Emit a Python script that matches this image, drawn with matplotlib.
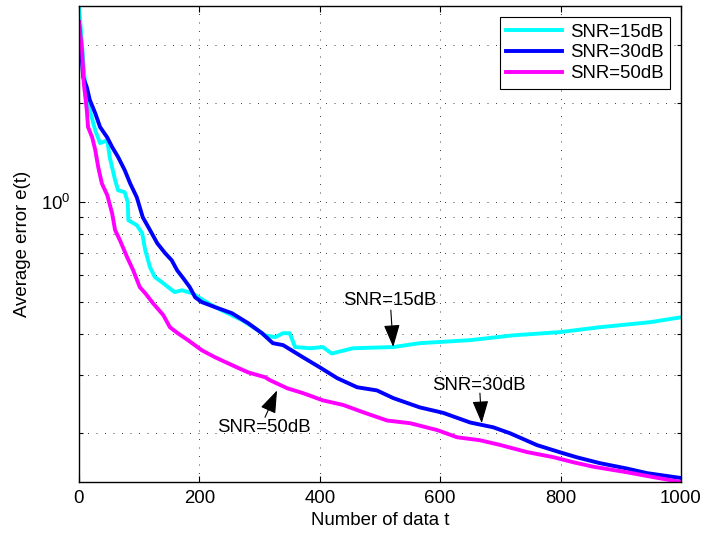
import matplotlib
matplotlib.use("Agg")
import matplotlib.pyplot as plt
from matplotlib.ticker import FixedLocator, NullFormatter, NullLocator

plt.rcParams['font.family'] = ['Liberation Sans', 'DejaVu Sans']

# SNR = 15 dB
t_15 = [0, 10, 18, 27, 35, 47, 51, 60, 65, 76, 81, 82, 96, 105, 110, 118, 126, 138, 148,
        159, 171, 188, 201, 226, 271, 292, 309, 326, 339, 350, 359, 384, 405, 420, 455,
        522, 566, 650, 721, 799, 865, 949, 1000]
e_15 = [3.93, 2.29, 1.90, 1.65, 1.51, 1.54, 1.37, 1.166, 1.087, 1.072, 1.0, 0.882, 0.852,
        0.805, 0.716, 0.635, 0.593, 0.572, 0.553, 0.534, 0.541, 0.530, 0.512, 0.481, 0.439,
        0.415, 0.395, 0.390, 0.401, 0.401, 0.364, 0.361, 0.364, 0.348, 0.361, 0.364, 0.374,
        0.382, 0.395, 0.404, 0.418, 0.433, 0.448]

# SNR = 30 dB
t_30 = [0, 7, 13, 18, 27, 35, 47, 55, 65, 76, 85, 96, 106, 118, 130, 143, 154, 163, 173,
        184, 193, 204, 226, 254, 281, 304, 322, 339, 372, 400, 429, 462, 495, 522, 566,
        605, 650, 688, 716, 761, 799, 827, 865, 910, 944, 1000]
e_30 = [3.5, 2.39, 2.23, 2.04, 1.86, 1.69, 1.57, 1.47, 1.37, 1.25, 1.14, 1.035, 0.90,
        0.823, 0.751, 0.701, 0.667, 0.622, 0.589, 0.553, 0.515, 0.498, 0.481, 0.461, 0.430,
        0.401, 0.374, 0.369, 0.339, 0.316, 0.293, 0.275, 0.269, 0.255, 0.239, 0.230, 0.215,
        0.208, 0.1995, 0.1836, 0.1747, 0.1687, 0.162, 0.156, 0.151, 0.146]

# SNR = 50 dB
t_50 = [0, 5, 8, 13, 15, 22, 27, 32, 38, 47, 55, 60, 68, 80, 90, 101, 110, 123, 140, 151,
        164, 181, 204, 226, 254, 281, 309, 317, 346, 372, 405, 439, 472, 512, 550, 595,
        628, 666, 699, 744, 787, 821, 854, 910, 953, 1000]
e_50 = [3.51, 2.89, 2.29, 1.90, 1.69, 1.57, 1.44, 1.276, 1.14, 1.05, 0.926, 0.823, 0.767,
        0.681, 0.622, 0.553, 0.530, 0.494, 0.455, 0.418, 0.401, 0.382, 0.356, 0.339, 0.321,
        0.305, 0.295, 0.289, 0.273, 0.264, 0.251, 0.243, 0.231, 0.218, 0.214, 0.204, 0.194,
        0.190, 0.184, 0.175, 0.169, 0.163, 0.158, 0.152, 0.147, 0.142]

series_labels = ['SNR=15dB', 'SNR=30dB', 'SNR=50dB']
x_ticks = [0, 200, 400, 600, 800, 1000]
y_major = [1.0]
y_minor = [0.2, 0.3, 0.4, 0.5, 0.6, 0.7, 0.8, 0.9, 2.0, 3.0]

# annotations: label, text position, arrow tail, arrow tip
ann_15 = ('SNR=15dB', (517, 0.505), (518, 0.471), (522, 0.364))
ann_30 = ('SNR=30dB', (664, 0.279), (666, 0.264), (669, 0.214))
ann_50 = ('SNR=50dB', (307, 0.207), (309, 0.223), (329, 0.269))

FS = 13.4
fig = plt.figure(figsize=(7.04, 5.33), dpi=100)
ax = fig.add_axes([0.1122, 0.0957, 0.8551, 0.8930])

ax.plot(t_15, e_15, color=(0, 1, 1), lw=2.8, label=series_labels[0])
ax.plot(t_30, e_30, color=(0, 0, 1), lw=2.8, label=series_labels[1])
ax.plot(t_50, e_50, color=(1, 0, 1), lw=2.8, label=series_labels[2])

ax.set_yscale('log')
ax.set_xlim(0, 1000)
ax.set_ylim(0.142, 3.93)

ax.xaxis.set_major_locator(FixedLocator(x_ticks))
ax.xaxis.set_minor_locator(NullLocator())
ax.set_xticklabels([str(v) for v in x_ticks])
ax.yaxis.set_major_locator(FixedLocator(y_major))
ax.yaxis.set_minor_locator(FixedLocator(y_minor))
ax.set_yticklabels([r'$\mathregular{10^0}$'])
ax.yaxis.set_minor_formatter(NullFormatter())

ax.tick_params(which='both', direction='in', top=True, right=True, labelsize=FS)
ax.tick_params(which='major', length=4.5, width=0.8)
ax.tick_params(which='minor', length=3, width=0.8)
ax.tick_params(axis='x', pad=6)
ax.tick_params(axis='y', pad=6)

grid_kw = dict(color='#222222', lw=0.6, linestyle=(0, (1.2, 9)))
ax.grid(True, which='major', axis='both', **grid_kw)
ax.grid(True, which='minor', axis='y', **grid_kw)

for sp in ax.spines.values():
    sp.set_linewidth(1.0)

ax.set_xlabel('Number of data t', fontsize=FS)
ax.set_ylabel('Average error e(t)', fontsize=FS)
ax.yaxis.set_label_coords(-0.080, 0.5)
ax.xaxis.set_label_coords(0.5, -0.062)

for label, tpos, tail, tip in (ann_15, ann_30, ann_50):
    ax.text(tpos[0], tpos[1], label, fontsize=FS, ha='center', va='center')
    ax.annotate('', xy=tip, xytext=tail,
                arrowprops=dict(arrowstyle='-|>,head_length=0.7,head_width=0.25',
                                color='k', lw=0.8, shrinkA=0, shrinkB=0,
                                mutation_scale=20))

leg = ax.legend(loc='upper right', fontsize=FS, fancybox=False, framealpha=1,
                edgecolor='k', handlelength=3.0, labelspacing=0.2,
                borderaxespad=0.6, handletextpad=0.4, borderpad=0.35)
leg.get_frame().set_linewidth(0.8)

fig.savefig('out.png', dpi=100)
